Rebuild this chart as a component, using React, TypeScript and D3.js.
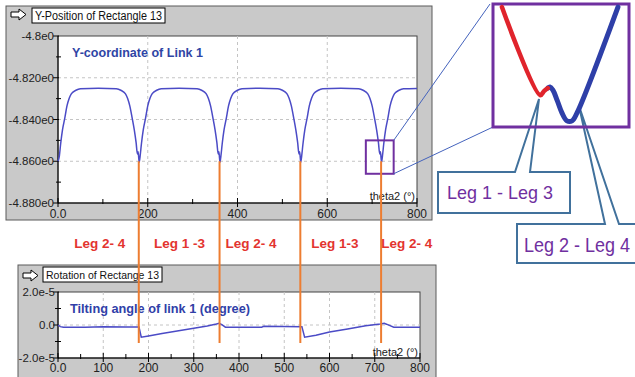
import React from 'react';
import * as d3 from 'd3';

const W = 635;
const H = 377;
const FONT = '"Liberation Sans", Arial, sans-serif';

// Y-Position of Rectangle 13 (theta2 in degrees, value in e0)
const linkY: [number, number][] = [
  [0, -4.8600], [3, -4.8575], [6, -4.8515], [10, -4.8450], [15, -4.8395], [20, -4.8335], [25, -4.8298],
  [30, -4.8276], [40, -4.8260], [50, -4.8253], [90, -4.8250],
  [130, -4.8253], [140, -4.8260], [150, -4.8276], [155, -4.8298], [160, -4.8335], [165, -4.8390],
  [170, -4.8450], [174, -4.8510], [177, -4.8565], [178.5, -4.8555], [181, -4.8605], [183, -4.8575],
  [186, -4.8515], [190, -4.8450], [195, -4.8395], [200, -4.8335], [205, -4.8298], [210, -4.8276],
  [220, -4.8260], [230, -4.8253], [270, -4.8250],
  [310, -4.8253], [320, -4.8260], [330, -4.8276], [335, -4.8298], [340, -4.8335], [345, -4.8390],
  [350, -4.8450], [354, -4.8510], [357, -4.8565], [358.5, -4.8555], [361, -4.8605], [363, -4.8575],
  [366, -4.8515], [370, -4.8450], [375, -4.8395], [380, -4.8335], [385, -4.8298], [390, -4.8276],
  [400, -4.8260], [410, -4.8253], [450, -4.8250],
  [490, -4.8253], [500, -4.8260], [510, -4.8276], [515, -4.8298], [520, -4.8335], [525, -4.8390],
  [530, -4.8450], [534, -4.8510], [537, -4.8565], [538.5, -4.8555], [541, -4.8605], [543, -4.8575],
  [546, -4.8515], [550, -4.8450], [555, -4.8395], [560, -4.8335], [565, -4.8298], [570, -4.8276],
  [580, -4.8260], [590, -4.8253], [630, -4.8250],
  [670, -4.8253], [680, -4.8260], [690, -4.8276], [695, -4.8298], [700, -4.8335], [705, -4.8390],
  [710, -4.8450], [714, -4.8510], [717, -4.8565], [718.5, -4.8555], [721, -4.8605], [723, -4.8575],
  [726, -4.8515], [730, -4.8450], [735, -4.8395], [740, -4.8335], [745, -4.8298], [750, -4.8276],
  [760, -4.8260], [770, -4.8253], [800, -4.8251],
];

// Rotation of Rectange 13 (value in 1e-5)
const tilt: [number, number][] = [
  [0, 0.0], [5, -0.10], [12, -0.14], [60, -0.14], [100, -0.10], [150, -0.12], [179, -0.12],
  [184, -0.74], [200, -0.66], [230, -0.52], [260, -0.38], [300, -0.20], [330, -0.06], [350, 0.06],
  [356, 0.11], [362, 0.02], [370, -0.13], [450, -0.13], [455, -0.08], [539, -0.10],
  [545, -0.74], [570, -0.62], [600, -0.42], [640, -0.24], [680, -0.04], [712, 0.06], [721, 0.10],
  [726, 0.05], [742, -0.13], [800, -0.13],
];

// zoomed view of the dip at 720
const insetRed: [number, number][] = [
  [706.1, -4.8503], [715.1, -4.8589], [716.0, -4.8585], [716.9, -4.8582],
];
const insetBlue: [number, number][] = [
  [716.9, -4.8582], [717.4, -4.8581], [718.1, -4.8584], [719.1, -4.8594], [720.2, -4.8606],
  [721.4, -4.8614], [722.6, -4.8614], [723.8, -4.8606], [733.4, -4.8503],
];

const dipTheta = [180, 360, 540, 720];
const legTheta = [93, 271, 430, 617, 777];
const legNames = ['Leg 2- 4', 'Leg 1 -3', 'Leg 2- 4', 'Leg 1-3', 'Leg 2- 4'];

const topYTicks = [-4.88, -4.86, -4.84, -4.82, -4.80];
const topYTickLabels = ['-4.880e0', '-4.860e0', '-4.840e0', '-4.820e0', '-4.8e0'];
const topYMinor = [-4.87, -4.85, -4.83, -4.81];
const topXTicks = [0, 200, 400, 600, 800];
const topXTickLabels = ['0.0', '200', '400', '600', '800'];
const topXMinor = [100, 300, 500, 700];

const botYTicks = [-2, 0, 2];
const botYTickLabels = ['-2.0e-5', '0.0', '2.0e-5'];
const botYMinor = [-1, 1];
const botXTicks = [0, 100, 200, 300, 400, 500, 600, 700, 800];
const botXTickLabels = ['0.0', '100', '200', '300', '400', '500', '600', '700', '800'];
const botXMinor = [50, 150, 250, 350, 450, 550, 650, 750];

const BLUE = '#4b4bc6';
const ORANGE = '#ed7d31';
const PURPLE = '#7030a0';
const CALLOUT = '#41719c';

function Arrow({ x, y }: { x: number; y: number }) {
  const p = [[0, 3], [8, 3], [8, 0], [15, 5.5], [8, 11], [8, 8], [0, 8]]
    .map(([a, b]) => `${x + a},${y + b}`).join(' ');
  return <polygon points={p} fill="#fff" stroke="#000" strokeWidth={1} />;
}

export default function App() {
  // top chart
  const xT = d3.scaleLinear().domain([0, 800]).range([58, 417]);
  const yT = d3.scaleLinear().domain([-4.88, -4.80]).range([203, 36]);
  const lineT = d3.line<[number, number]>().x(d => xT(d[0])).y(d => yT(d[1])).curve(d3.curveMonotoneX);

  // bottom chart
  const xB = d3.scaleLinear().domain([0, 800]).range([58, 420]);
  const yB = d3.scaleLinear().domain([-2, 2]).range([358, 292]);
  const lineB = d3.line<[number, number]>().x(d => xB(d[0])).y(d => yB(d[1]));

  // inset
  const xI = d3.scaleLinear().domain([704, 736]).range([493, 629]);
  const yI = d3.scaleLinear().domain([-4.850, -4.862]).range([4, 127]);
  const lineI = d3.line<[number, number]>().x(d => xI(d[0])).y(d => yI(d[1])).curve(d3.curveCatmullRom);

  // small zoom box in top chart
  const bx0 = xT(686), bx1 = xT(748), by0 = yT(-4.850), by1 = yT(-4.866);

  const grid = { stroke: '#c4c4c4', strokeDasharray: '3,3', strokeWidth: 1 };
  const fit = 'spacingAndGlyphs';

  return (
    <svg width={W} height={H} style={{ position: 'absolute', left: 0, top: 0, background: '#fff' }} fontFamily={FONT}>
      {/* top panel */}
      <rect x={6} y={6} width={426} height={214} fill="#c9c9c9" stroke="#5a5a5a" />
      <Arrow x={11} y={9} />
      <rect x={32} y={8} width={133} height={15} fill="#fff" stroke="#000" />
      <text x={35} y={20} fontSize={12} fill="#111" textLength={127} lengthAdjust={fit}>Y-Position of Rectangle 13</text>
      <rect x={58} y={36} width={359} height={167} fill="#fff" stroke="#444" />
      {[200, 400, 600].map(t => <line key={t} x1={xT(t)} x2={xT(t)} y1={36} y2={203} {...grid} />)}
      {[-4.86, -4.84, -4.82].map(v => <line key={v} x1={58} x2={417} y1={yT(v)} y2={yT(v)} {...grid} />)}
      <line x1={58} x2={58} y1={36} y2={203} stroke="#000" />
      <line x1={58} x2={417} y1={203} y2={203} stroke="#000" />
      {topYTicks.map((v, i) => (
        <g key={v}>
          <line x1={53} x2={59} y1={yT(v)} y2={yT(v)} stroke="#000" />
          <text x={54} y={yT(v) + 4} fontSize={11.5} textAnchor="end" fill="#222">{topYTickLabels[i]}</text>
        </g>
      ))}
      {topYMinor.map(v => <line key={v} x1={56} x2={61} y1={yT(v)} y2={yT(v)} stroke="#000" />)}
      {topXTicks.map((t, i) => (
        <g key={t}>
          <line x1={xT(t)} x2={xT(t)} y1={198} y2={207} stroke="#000" />
          <text x={xT(t)} y={218} fontSize={12} textAnchor="middle" fill="#222">{topXTickLabels[i]}</text>
        </g>
      ))}
      {topXMinor.map(t => <line key={t} x1={xT(t)} x2={xT(t)} y1={199} y2={204} stroke="#000" />)}
      <text x={415} y={200} fontSize={11} textAnchor="end" fill="#222">theta2 (°)</text>
      <text x={72} y={57} fontSize={13.5} fontWeight="bold" fill="#2f45a5" textLength={131} lengthAdjust={fit}>Y-coordinate of Link 1</text>
      <path d={lineT(linkY) ?? ''} fill="none" stroke={BLUE} strokeWidth={1.5} />
      <rect x={bx0} y={by0} width={bx1 - bx0} height={by1 - by0} fill="none" stroke={PURPLE} strokeWidth={2} />

      {/* bottom panel */}
      <rect x={18} y={265} width={418} height={120} fill="#c9c9c9" stroke="#5a5a5a" />
      <Arrow x={23} y={270} />
      <rect x={43} y={267} width={119} height={15} fill="#fff" stroke="#000" />
      <text x={46} y={279} fontSize={11.5} fill="#111" textLength={113} lengthAdjust={fit}>Rotation of Rectange 13</text>
      <rect x={58} y={292} width={362} height={66} fill="#fff" stroke="#444" />
      {botXTicks.slice(1, -1).map(t => <line key={t} x1={xB(t)} x2={xB(t)} y1={292} y2={358} {...grid} />)}
      <line x1={58} x2={420} y1={yB(0)} y2={yB(0)} {...grid} />
      <line x1={58} x2={58} y1={292} y2={358} stroke="#000" />
      <line x1={58} x2={420} y1={358} y2={358} stroke="#000" />
      {botYTicks.map((v, i) => (
        <g key={v}>
          <line x1={53} x2={59} y1={yB(v)} y2={yB(v)} stroke="#000" />
          <text x={55} y={yB(v) + 4} fontSize={11.5} textAnchor="end" fill="#222">{botYTickLabels[i]}</text>
        </g>
      ))}
      {botYMinor.map(v => <line key={v} x1={55} x2={61} y1={yB(v)} y2={yB(v)} stroke="#000" />)}
      {botXTicks.map((t, i) => (
        <g key={t}>
          <line x1={xB(t)} x2={xB(t)} y1={353} y2={362} stroke="#000" />
          <text x={xB(t)} y={372} fontSize={12} textAnchor="middle" fill="#222">{botXTickLabels[i]}</text>
        </g>
      ))}
      {botXMinor.map(t => <line key={t} x1={xB(t)} x2={xB(t)} y1={354} y2={359} stroke="#000" />)}
      <text x={418} y={356} fontSize={11} textAnchor="end" fill="#222">theta2 (°)</text>
      <text x={70} y={313} fontSize={13.5} fontWeight="bold" fill="#3040a8" textLength={180} lengthAdjust={fit}>Tilting angle of link 1 (degree)</text>
      <path d={lineB(tilt) ?? ''} fill="none" stroke={BLUE} strokeWidth={1.5} />

      {/* orange markers at the dips */}
      {dipTheta.map(t => (
        <line key={t} x1={xT(t)} x2={xT(t)} y1={yT(-4.860)} y2={343} stroke={ORANGE} strokeWidth={2} />
      ))}
      {legTheta.map((t, i) => (
        <text key={i} x={xT(t)} y={248} fontSize={13.5} fontWeight="bold" textAnchor="middle" fill="#e3342f">{legNames[i]}</text>
      ))}

      {/* connectors to inset */}
      <line x1={bx1} y1={by0} x2={490} y2={4} stroke="#4463bd" strokeWidth={1} />
      <line x1={bx1} y1={by1} x2={493} y2={127} stroke="#4463bd" strokeWidth={1} />

      {/* callouts */}
      <path d="M438,172 L515,172 L539,99 L530,172 L570,172 L570,213 L438,213 Z" fill="#fff" stroke={CALLOUT} strokeWidth={2} />
      <text x={447} y={199} fontSize={19} fill={PURPLE} textLength={106} lengthAdjust={fit}>Leg 1 - Leg 3</text>
      <path d="M517,224 L605,224 L579,106 L619,224 L650,224 L650,263 L517,263 Z" fill="#fff" stroke={CALLOUT} strokeWidth={2} />
      <text x={524} y={252} fontSize={20} fill={PURPLE} textLength={106} lengthAdjust={fit}>Leg 2 - Leg 4</text>

      {/* inset */}
      <rect x={493} y={4} width={136} height={123} fill="none" stroke={PURPLE} strokeWidth={3} />
      <path d={lineI(insetBlue) ?? ''} fill="none" stroke="#2e3fa8" strokeWidth={5} strokeLinecap="round" />
      <path d={lineI(insetRed) ?? ''} fill="none" stroke="#e0242c" strokeWidth={4.5} strokeLinecap="round" />
    </svg>
  );
}
